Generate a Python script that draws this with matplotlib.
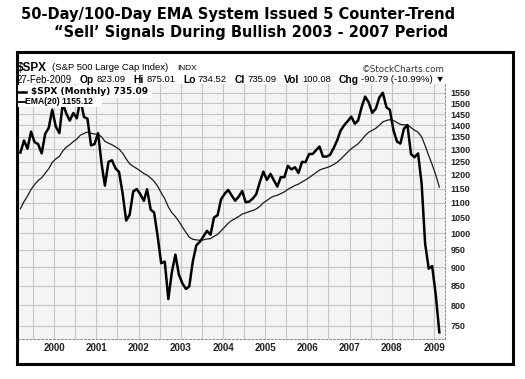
import matplotlib
matplotlib.use("Agg")
import matplotlib.pyplot as plt
import pandas as pd
from matplotlib.dates import MonthLocator, YearLocator, DateFormatter
from matplotlib.lines import Line2D
from matplotlib.patches import Rectangle
from matplotlib.ticker import FixedLocator, FixedFormatter, NullLocator, NullFormatter

W, H = 525, 379

# $SPX monthly closes, Mar 1999 - Feb 2009
spx_close = [
    1286.4, 1335.2, 1301.8, 1372.7, 1328.7, 1320.4, 1282.7, 1362.9, 1388.9, 1469.3,
    1394.5, 1366.4, 1498.6, 1452.4, 1420.6, 1454.6, 1430.8, 1517.7, 1436.5, 1429.4, 1315.2, 1320.3,
    1366.0, 1239.9, 1160.3, 1249.5, 1255.8, 1224.4, 1211.2, 1133.6, 1040.9, 1059.8, 1139.5, 1148.1,
    1130.2, 1106.7, 1147.4, 1076.9, 1067.1, 989.8, 911.6, 916.1, 815.3, 885.8, 936.3, 879.8,
    855.7, 841.2, 848.2, 916.9, 963.6, 974.5, 990.3, 1008.0, 996.0, 1050.7, 1058.2, 1111.9,
    1131.1, 1144.9, 1126.2, 1107.3, 1120.7, 1140.8, 1101.7, 1104.2, 1114.6, 1130.2, 1173.8, 1211.9,
    1181.3, 1203.6, 1180.6, 1156.9, 1191.5, 1191.3, 1234.2, 1220.3, 1228.8, 1207.0, 1249.5, 1248.3,
    1280.1, 1280.7, 1294.8, 1310.6, 1270.1, 1270.2, 1276.7, 1303.8, 1335.9, 1377.9, 1400.6, 1418.3,
    1438.2, 1406.8, 1420.9, 1482.4, 1530.6, 1503.4, 1455.3, 1474.0, 1526.8, 1549.4, 1481.1, 1468.4,
    1378.6, 1330.6, 1322.7, 1385.6, 1400.4, 1280.0, 1267.4, 1282.8, 1166.4, 968.8, 896.2, 903.3,
    825.9, 735.1,
]

# EMA(20) line as drawn on the chart
ema20 = [
    1080, 1104, 1123, 1147, 1164, 1179, 1189, 1206, 1223, 1247,
    1261, 1271, 1292, 1308, 1318, 1331, 1341, 1358, 1365, 1371, 1366, 1362,
    1362, 1350, 1332, 1324, 1318, 1309, 1300, 1284, 1261, 1242, 1232, 1224,
    1215, 1205, 1199, 1188, 1176, 1158, 1135, 1114, 1086, 1067, 1054, 1038,
    1020, 1003, 988, 982, 980, 979, 980, 983, 984, 991, 997, 1008,
    1020, 1032, 1041, 1047, 1054, 1062, 1066, 1070, 1074, 1079, 1088, 1100,
    1108, 1117, 1123, 1126, 1132, 1138, 1147, 1154, 1161, 1166, 1174, 1181,
    1190, 1199, 1208, 1218, 1223, 1227, 1232, 1239, 1248, 1260, 1274, 1288,
    1302, 1312, 1322, 1338, 1356, 1370, 1378, 1387, 1400, 1415, 1421, 1425,
    1421, 1412, 1404, 1402, 1402, 1390, 1379, 1370, 1350, 1314, 1274, 1239,
    1200, 1155,
]

months = pd.date_range("1999-03-01", periods=len(spx_close), freq="MS") + pd.Timedelta(days=14)

y_ticks = list(range(750, 1551, 50))

title_lines = [
    "50-Day/100-Day EMA System Issued 5 Counter-Trend",
    "\u201cSell\u2019 Signals During Bullish 2003 - 2007 Period",
]

# quote line: groups of (label, value)
quote_groups = [
    ("", "27-Feb-2009"),
    ("Op", "823.09"),
    ("Hi", "875.01"),
    ("Lo", "734.52"),
    ("Cl", "735.09"),
    ("Vol", "100.08"),
    ("Chg", "-90.79 (-10.99%) \u25bc"),
]


def fx(x):
    return x / W


def fy(y):
    return 1 - y / H


fig = plt.figure(figsize=(W / 100, H / 100), dpi=100)

ax = fig.add_axes([fx(18), fy(339), fx(445) - fx(18), fy(84) - fy(339)])
ax.set_facecolor("#f4f4f4")
ax.plot(months, ema20, color="#1a1a1a", lw=0.9, zorder=3)
ax.plot(months, spx_close, color="black", lw=1.8, zorder=4, solid_joinstyle="round")

ax.set_yscale("log")
ax.set_ylim(720, 1592)
ax.yaxis.set_major_locator(FixedLocator(y_ticks))
ax.yaxis.set_major_formatter(FixedFormatter([str(v) for v in y_ticks]))
ax.yaxis.set_minor_locator(NullLocator())
ax.yaxis.set_minor_formatter(NullFormatter())
ax.yaxis.tick_right()

ax.set_xlim(pd.Timestamp("1999-02-22"), pd.Timestamp("2009-04-05"))
ax.xaxis.set_major_locator(YearLocator())
ax.xaxis.set_major_formatter(DateFormatter("%Y"))
ax.xaxis.set_minor_locator(MonthLocator(bymonth=7))

ax.tick_params(axis="both", which="both", length=0)
ax.tick_params(axis="y", pad=4)
ax.tick_params(axis="x", pad=3)
for lab in ax.get_yticklabels():
    lab.set_fontfamily("Liberation Sans")
    lab.set_fontweight("bold")
    lab.set_fontsize(6.5)
    lab.set_color("#222222")
for lab in ax.get_xticklabels():
    lab.set_fontfamily("Liberation Sans")
    lab.set_fontweight("bold")
    lab.set_fontsize(7)
    lab.set_color("#222222")

ax.grid(True, which="major", axis="both", color="#c6c6c6", lw=0.8, zorder=1)
ax.grid(True, which="minor", axis="x", color="#c6c6c6", lw=0.8, zorder=1)
ax.set_axisbelow(True)

for side in ["left", "top"]:
    ax.spines[side].set_visible(False)
for side in ["bottom", "right"]:
    ax.spines[side].set_linestyle((0, (2, 2)))
    ax.spines[side].set_color("#8a8a8a")
    ax.spines[side].set_linewidth(0.7)

# frame around the chart
fig.patches.append(Rectangle((fx(17), fy(364)), fx(513) - fx(17), fy(52) - fy(364),
                             transform=fig.transFigure, fill=False, lw=2.2, ec="black", zorder=5))

fig.text(fx(238), fy(14), title_lines[0], ha="center", va="center",
         fontsize=10.5, fontweight="bold", family="DejaVu Sans")
fig.text(fx(251), fy(33), title_lines[1], ha="center", va="center",
         fontsize=10.5, fontweight="bold", family="DejaVu Sans")

fig.text(fx(17), fy(68), "$SPX", ha="left", va="center",
         fontsize=8.5, fontweight="bold", family="Liberation Sans")
fig.text(fx(52), fy(68), "(S&P 500 Large Cap Index)", ha="left", va="center",
         fontsize=6.8, family="Liberation Sans")
fig.text(fx(177), fy(68), "INDX", ha="left", va="center",
         fontsize=6, family="Liberation Sans")
fig.text(fx(362), fy(69), "\u00a9StockCharts.com", ha="left", va="center",
         fontsize=6.3, family="DejaVu Sans", color="#333333")

# quote line laid out left to right between x=17 and x=445
renderer = fig.canvas.get_renderer()
quote_texts = []
for label, value in quote_groups:
    group = []
    if label:
        group.append(fig.text(0, fy(80), label, ha="left", va="center", fontsize=7.4,
                              fontweight="bold", family="Liberation Sans"))
    group.append(fig.text(0, fy(80), value, ha="left", va="center",
                          fontsize=6.9 if not label else 6.8,
                          family=["Liberation Sans", "DejaVu Sans"]))
    quote_texts.append(group)

inner_gap = 2.5
widths = [[t.get_window_extent(renderer).width for t in g] for g in quote_texts]
used = sum(sum(w) + inner_gap * (len(w) - 1) for w in widths)
outer_gap = (445 - 17 - used) / (len(quote_texts) - 1)
x = 17
for group, ws in zip(quote_texts, widths):
    for t, w in zip(group, ws):
        t.set_x(fx(x))
        x += w + inner_gap
    x += outer_gap - inner_gap

# legend rows sit on white strips that hide the plot beneath them
fig.patches.append(Rectangle((fx(18), fy(97.5)), fx(152) - fx(18), fy(85) - fy(97.5),
                             transform=fig.transFigure, fc="white", ec="none", zorder=5.5))
fig.patches.append(Rectangle((fx(18), fy(107)), fx(102) - fx(18), fy(97.5) - fy(107),
                             transform=fig.transFigure, fc="white", ec="none", zorder=5.5))

fig.add_artist(Line2D([fx(18), fx(26)], [fy(92), fy(92)], color="black", lw=1.8,
                      transform=fig.transFigure, zorder=6))
fig.text(fx(31), fy(92), "$SPX (Monthly) 735.09", ha="left", va="center",
         fontsize=6.5, fontweight="bold", family="DejaVu Sans", zorder=6)
fig.add_artist(Line2D([fx(18), fx(25)], [fy(102), fy(102)], color="black", lw=1.3,
                      transform=fig.transFigure, zorder=6))
fig.text(fx(25), fy(102), "EMA(20) 1155.12", ha="left", va="center",
         fontsize=6.2, family="Liberation Sans", fontweight="bold", zorder=6)

fig.savefig("out.png", dpi=100, facecolor="white")
